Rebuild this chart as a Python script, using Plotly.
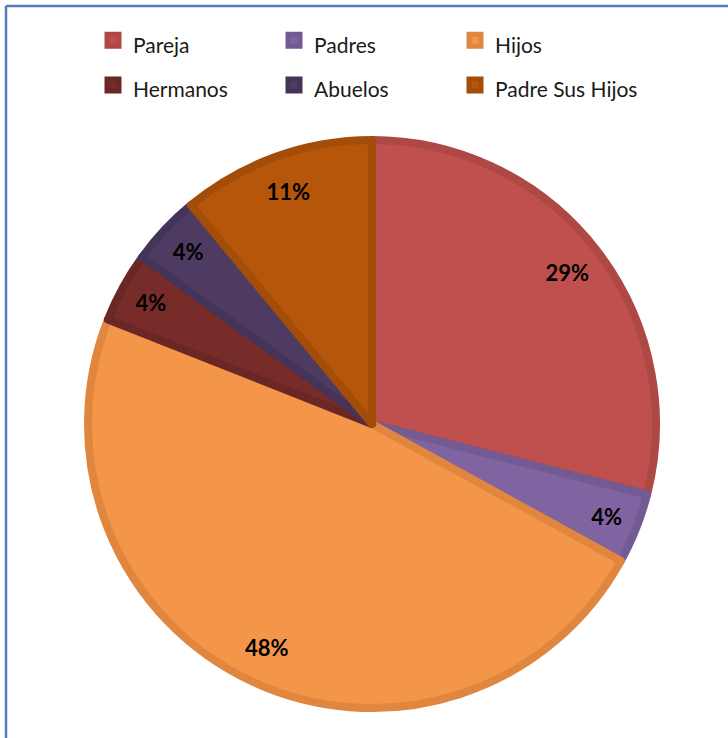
import plotly.graph_objects as go

# Household members share
labels = ["Pareja", "Padres", "Hijos", "Hermanos", "Abuelos", "Padre Sus Hijos"]
shares = [29, 4, 48, 4, 4, 11]
fill_colors = ["#C0504D", "#8064A2", "#F4964A", "#772C2A", "#4D3B62", "#B5560A"]
edge_colors = ["#AD4845", "#735A92", "#E0863E", "#6A2726", "#45345A", "#A34D08"]

W, H = 728, 738
cx, cy, R = 372, 424, 284  # pie centre and radius in pixels
ML, MR = cx - R, W - (cx + R)  # plot area spans exactly the pie width
PW = W - ML - MR


def px_x(px):
    return (px - ML) / PW


def px_y(py):
    return 1 - py / H


dom_x = [0, 1]
dom_y = [px_y(cy + R), px_y(cy - R)]

# legend rows are spaced by the legend font size; the visible text uses a smaller span
legend_names = [f"<span style='font-size:21px'>{s}</span>" for s in labels]

fig = go.Figure()

# main pie with slice fills and darker edges
fig.add_trace(go.Pie(
    labels=legend_names,
    values=shares,
    sort=False,
    direction="clockwise",
    rotation=0,
    marker=dict(colors=fill_colors, line=dict(color=edge_colors, width=8)),
    textinfo="none",
    hovertemplate="%{customdata}: %{percent}<extra></extra>",
    customdata=labels,
    domain=dict(x=dom_x, y=dom_y),
    showlegend=True,
))

# transparent ring carrying the percentage labels near the rim
fig.add_trace(go.Pie(
    labels=legend_names,
    values=shares,
    sort=False,
    direction="clockwise",
    rotation=0,
    hole=0.74,
    marker=dict(colors=["rgba(0,0,0,0)"] * len(labels),
                line=dict(color="rgba(0,0,0,0)", width=0)),
    textinfo="percent",
    texttemplate="%{percent:.0%}",
    textposition="inside",
    insidetextorientation="horizontal",
    textfont=dict(family="Lato", size=22, color="#000000", weight="bold"),
    domain=dict(x=dom_x, y=dom_y),
    showlegend=False,
    hoverinfo="skip",
))

fig.update_layout(
    width=W,
    height=H,
    margin=dict(l=ML, r=MR, t=0, b=0, autoexpand=False),
    paper_bgcolor="white",
    plot_bgcolor="white",
    legend=dict(
        orientation="h",
        x=px_x(93),
        xanchor="left",
        y=px_y(13),
        yanchor="top",
        entrywidth=181 / PW,
        entrywidthmode="fraction",
        font=dict(family="Lato", size=32, color="#1a1a1a"),
        traceorder="normal",
    ),
    shapes=[
        dict(type="line", xref="paper", yref="paper",
             x0=px_x(6), x1=px_x(W), y0=px_y(6), y1=px_y(6),
             line=dict(color="#4F81BD", width=2.5)),
        dict(type="line", xref="paper", yref="paper",
             x0=px_x(6), x1=px_x(6), y0=px_y(H), y1=px_y(6),
             line=dict(color="#4F81BD", width=2.5)),
    ],
)

fig.write_html("out.html")
